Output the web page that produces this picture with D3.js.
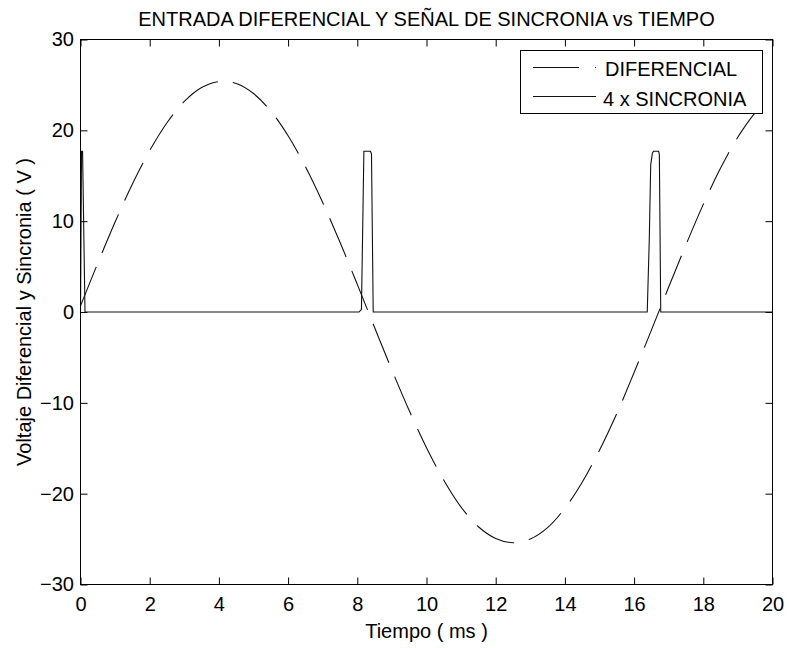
<!DOCTYPE html>
<html><head><meta charset="utf-8">
<script src="https://cdn.jsdelivr.net/npm/d3@7"></script>
<style>
body{margin:0;background:#fff}
svg{display:block}
text{font-family:Arial,"Liberation Sans",Helvetica,sans-serif;fill:#000}
</style>
</head><body>
<svg id="c" width="789" height="648"></svg>
<script>
// ---- data ----
const tiempoDif = [0,0.5,1,1.5,2,2.5,3,3.5,4,4.5,5,5.5,6,6.5,7,7.5,8,8.5,9,9.5,10,10.5,11,11.5,12,12.5,13,13.5,14,14.5,15,15.5,16,16.5,17,17.5,18,18.5,19,19.5,20];
const diferencial = [0.67,5.38,9.91,14.09,17.77,20.84,23.18,24.71,25.37,25.15,24.05,22.11,19.40,16.00,12.05,7.68,3.04,-1.71,-6.39,-10.85,-14.94,-18.52,-21.48,-23.64,-24.93,-25.40,-24.98,-23.73,-21.60,-18.74,-15.22,-11.18,-6.66,-2.00,2.75,7.41,11.85,15.84,19.26,21.96,23.93];
const tiempoSinc = [0,0.03,0.06,0.13,8.05,8.12,8.19,8.38,8.41,8.46,16.38,16.44,16.48,16.53,16.56,16.71,16.73,16.77,20];
const sincronia4x = [0,17.7,17.7,0,0,0.3,17.7,17.7,17.4,0,0,8.2,16.2,17.5,17.7,17.7,17.3,0,0];
const xTicks = [0,2,4,6,8,10,12,14,16,18,20];
const yTicks = [-30,-20,-10,0,10,20,30];
const seriesNames = ["DIFERENCIAL","4 x SINCRONIA"];
const titulo = "ENTRADA DIFERENCIAL Y SEÑAL DE SINCRONIA vs TIEMPO";
const xEtiqueta = "Tiempo ( ms )";
const yEtiqueta = "Voltaje Diferencial y Sincronia ( V )";

const svg = d3.select("#c");
const L = 80.5, R = 772.5, T = 39.5, B = 584.5;
const x = d3.scaleLinear().domain([0,20]).range([L,R]);
const y = d3.scaleLinear().domain([-30,30]).range([B,T]);
const FS = 20;

svg.append("defs").append("clipPath").attr("id","clip")
  .append("rect").attr("x",L).attr("y",T).attr("width",R-L).attr("height",B-T);

// axes
const gx = svg.append("g").attr("transform",`translate(0,${B})`)
  .call(d3.axisBottom(x).tickValues(xTicks).tickSizeInner(-7).tickSizeOuter(0).tickPadding(12).tickFormat(d3.format("d")));
const gy = svg.append("g").attr("transform",`translate(${L},0)`)
  .call(d3.axisLeft(y).tickValues(yTicks).tickSizeInner(-7).tickSizeOuter(0).tickPadding(6.5).tickFormat(d3.format("d")));
const gxt = svg.append("g").attr("transform",`translate(0,${T})`)
  .call(d3.axisTop(x).tickValues(xTicks).tickSizeInner(-7).tickSizeOuter(0).tickFormat(""));
const gyr = svg.append("g").attr("transform",`translate(${R},0)`)
  .call(d3.axisRight(y).tickValues(yTicks).tickSizeInner(-7).tickSizeOuter(0).tickFormat(""));
[gx,gy,gxt,gyr].forEach(g=>{
  g.select(".domain").remove();
  g.selectAll("line").attr("stroke","#000");
  g.selectAll("text").attr("font-size",FS).attr("font-family","Arial,'Liberation Sans',sans-serif").attr("fill","#000");
});

// series
const plot = svg.append("g").attr("clip-path","url(#clip)");
const difData = tiempoDif.map((t,i)=>[t,diferencial[i]]);
const sincData = tiempoSinc.map((t,i)=>[t,sincronia4x[i]]);
plot.append("path").datum(difData)
  .attr("d",d3.line().x(d=>x(d[0])).y(d=>y(d[1])).curve(d3.curveCatmullRom))
  .attr("fill","none").attr("stroke","#111").attr("stroke-width",1.1)
  .attr("stroke-dasharray","42,15");
plot.append("path").datum(sincData)
  .attr("d",d3.line().x(d=>x(d[0])).y(d=>y(d[1])))
  .attr("fill","none").attr("stroke","#111").attr("stroke-width",1.1);

// box
svg.append("rect").attr("x",L).attr("y",T).attr("width",R-L).attr("height",B-T)
  .attr("fill","none").attr("stroke","#000").attr("stroke-width",1);

// legend
const lg = svg.append("g");
lg.append("rect").attr("x",520.5).attr("y",50.5).attr("width",242).attr("height",63)
  .attr("fill","#fff").attr("stroke","#000").attr("stroke-width",1);
const ly = [67.5,96.5], lt = [76,106], lx = [605,603];
seriesNames.forEach((n,i)=>{
  lg.append("line").attr("x1",533).attr("x2",596).attr("y1",ly[i]).attr("y2",ly[i])
    .attr("stroke","#111").attr("stroke-width",1.1)
    .attr("stroke-dasharray", i===0 ? "46,16" : null);
  lg.append("text").attr("x",lx[i]).attr("y",lt[i]).attr("font-size",FS).text(n);
});

// titles
svg.append("text").attr("x",(L+R)/2).attr("y",26).attr("text-anchor","middle").attr("font-size",FS).text(titulo);
svg.append("text").attr("x",(L+R)/2).attr("y",638).attr("text-anchor","middle").attr("font-size",FS).text(xEtiqueta);
svg.append("text").attr("transform",`translate(31,${(T+B)/2}) rotate(-90)`).attr("text-anchor","middle").attr("font-size",FS).text(yEtiqueta);
</script>
</body></html>
